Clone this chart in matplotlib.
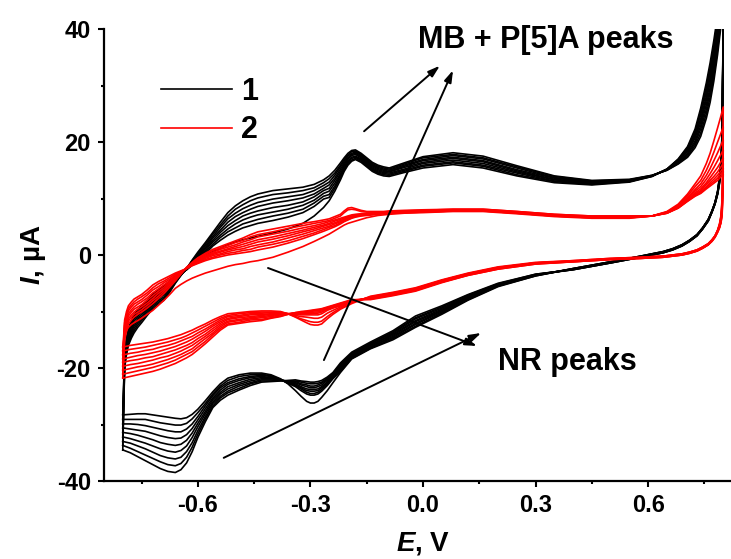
"""CV curves: black (1) and red (2), nine cycles each."""

import numpy as np
import matplotlib
matplotlib.use("Agg")
import matplotlib.pyplot as plt
from matplotlib.lines import Line2D

plt.rcParams["font.family"] = ["Liberation Sans", "DejaVu Sans"]
plt.rcParams["font.weight"] = "bold"
plt.rcParams["mathtext.fontset"] = "custom"
plt.rcParams["mathtext.it"] = "Liberation Sans:italic:bold"
plt.rcParams["mathtext.rm"] = "Liberation Sans:bold"

# potential, V: forward scan (-0.8 -> 0.8) and reverse scan (0.8 -> -0.8)
FWD_E = [-0.800, -0.795, -0.790, -0.785, -0.777, -0.770, -0.760, -0.750, -0.735, -0.720,
         -0.705, -0.690, -0.675, -0.660, -0.645, -0.630, -0.615, -0.600, -0.580, -0.560,
         -0.540, -0.520, -0.500, -0.480, -0.460, -0.440, -0.400, -0.360, -0.320, -0.290,
         -0.265, -0.250, -0.235, -0.220, -0.210, -0.200, -0.190, -0.180, -0.165, -0.150,
         -0.135, -0.120, -0.105, -0.090, -0.050, 0.000, 0.080, 0.160, 0.250, 0.350,
         0.450, 0.550, 0.610, 0.650, 0.680, 0.705, 0.725, 0.740, 0.755, 0.765,
         0.775, 0.785, 0.793, 0.800]
REV_E = [0.799, 0.797, 0.794, 0.790, 0.785, 0.778, 0.770, 0.760, 0.745, 0.730,
         0.710, 0.690, 0.665, 0.640, 0.610, 0.580, 0.500, 0.400, 0.300, 0.200,
         0.120, 0.050, -0.020, -0.080, -0.140, -0.190, -0.220, -0.240, -0.255, -0.270,
         -0.280, -0.290, -0.300, -0.310, -0.325, -0.340, -0.360, -0.380, -0.405, -0.430,
         -0.460, -0.490, -0.520, -0.540, -0.560, -0.580, -0.600, -0.615, -0.630, -0.645,
         -0.660, -0.680, -0.700, -0.720, -0.740, -0.760, -0.780, -0.800]

# current, uA: one row per potential, one column per cycle (9 cycles)
BLACK_FWD = [
    [-28.3, -29.1, -29.9, -30.6, -31.4, -32.2, -33.0, -33.7, -34.5],
    [-17.0, -17.4, -17.8, -18.1, -18.5, -18.9, -19.3, -19.6, -20.0],
    [-14.6, -15.0, -15.4, -15.7, -16.1, -16.5, -16.9, -17.2, -17.6],
    [-13.0, -13.4, -13.8, -14.1, -14.5, -14.9, -15.3, -15.6, -16.0],
    [-11.6, -12.0, -12.4, -12.8, -13.2, -13.5, -13.9, -14.3, -14.7],
    [-10.5, -10.9, -11.3, -11.7, -12.2, -12.6, -13.0, -13.4, -13.8],
    [-9.7, -10.1, -10.5, -10.9, -11.3, -11.6, -12.0, -12.4, -12.8],
    [-9.0, -9.4, -9.8, -10.1, -10.5, -10.9, -11.3, -11.6, -12.0],
    [-8.0, -8.3, -8.7, -9.0, -9.4, -9.7, -10.0, -10.4, -10.7],
    [-7.0, -7.3, -7.6, -7.9, -8.3, -8.6, -8.9, -9.2, -9.5],
    [-6.2, -6.5, -6.8, -7.1, -7.5, -7.8, -8.1, -8.4, -8.7],
    [-5.4, -5.7, -6.1, -6.4, -6.7, -7.0, -7.4, -7.7, -8.0],
    [-4.6, -4.9, -5.1, -5.4, -5.6, -5.9, -6.1, -6.4, -6.6],
    [-3.8, -4.0, -4.1, -4.3, -4.4, -4.6, -4.7, -4.9, -5.0],
    [-3.2, -3.3, -3.3, -3.4, -3.4, -3.5, -3.5, -3.6, -3.6],
    [-2.6, -2.6, -2.6, -2.5, -2.5, -2.5, -2.4, -2.4, -2.4],
    [-1.8, -1.7, -1.6, -1.5, -1.4, -1.2, -1.1, -1.0, -0.9],
    [-1.0, -0.8, -0.6, -0.4, -0.3, -0.1, 0.1, 0.3, 0.5],
    [-0.1, 0.2, 0.5, 0.8, 1.1, 1.3, 1.6, 1.9, 2.2],
    [0.6, 1.6, 1.9, 2.3, 2.6, 3.0, 3.3, 3.7, 4.0],
    [1.2, 2.6, 3.1, 3.5, 4.0, 4.4, 4.9, 5.3, 5.8],
    [1.8, 3.5, 4.1, 4.6, 5.2, 5.8, 6.4, 6.9, 7.5],
    [2.3, 4.2, 4.8, 5.5, 6.1, 6.8, 7.4, 8.1, 8.7],
    [2.7, 4.8, 5.5, 6.2, 6.9, 7.5, 8.2, 8.9, 9.6],
    [3.0, 5.2, 5.9, 6.7, 7.4, 8.1, 8.8, 9.6, 10.3],
    [3.3, 5.6, 6.3, 7.1, 7.8, 8.6, 9.3, 10.1, 10.8],
    [3.9, 6.1, 6.9, 7.6, 8.4, 9.2, 9.9, 10.7, 11.4],
    [4.6, 6.7, 7.4, 8.1, 8.8, 9.6, 10.3, 11.0, 11.7],
    [5.6, 7.5, 8.1, 8.8, 9.4, 10.1, 10.7, 11.4, 12.0],
    [6.9, 8.6, 9.2, 9.7, 10.3, 10.8, 11.4, 11.9, 12.5],
    [8.4, 9.9, 10.4, 10.9, 11.4, 11.8, 12.3, 12.8, 13.3],
    [9.6, 10.2, 10.7, 11.3, 11.8, 12.4, 12.9, 13.5, 14.0],
    [11.3, 11.8, 12.2, 12.7, 13.2, 13.6, 14.1, 14.5, 15.0],
    [13.3, 13.7, 14.1, 14.4, 14.8, 15.2, 15.6, 15.9, 16.3],
    [14.8, 15.1, 15.4, 15.7, 16.0, 16.3, 16.6, 16.9, 17.2],
    [15.9, 16.2, 16.4, 16.7, 17.0, 17.2, 17.5, 17.7, 18.0],
    [16.6, 16.8, 17.1, 17.3, 17.6, 17.8, 18.0, 18.3, 18.5],
    [16.9, 17.1, 17.3, 17.5, 17.8, 18.0, 18.2, 18.4, 18.6],
    [16.4, 16.6, 16.8, 17.0, 17.2, 17.4, 17.6, 17.8, 18.0],
    [15.6, 15.8, 16.0, 16.2, 16.4, 16.6, 16.8, 17.0, 17.2],
    [14.8, 15.0, 15.2, 15.4, 15.6, 15.8, 16.0, 16.2, 16.4],
    [14.3, 14.5, 14.7, 14.9, 15.1, 15.3, 15.5, 15.7, 15.9],
    [14.0, 14.2, 14.4, 14.6, 14.8, 15.0, 15.2, 15.4, 15.6],
    [13.9, 14.1, 14.3, 14.5, 14.7, 14.8, 15.0, 15.2, 15.4],
    [14.6, 14.8, 15.0, 15.2, 15.5, 15.7, 15.9, 16.1, 16.3],
    [15.4, 15.7, 15.9, 16.2, 16.4, 16.7, 16.9, 17.2, 17.4],
    [16.0, 16.3, 16.5, 16.8, 17.1, 17.3, 17.6, 17.8, 18.1],
    [15.4, 15.7, 15.9, 16.2, 16.5, 16.7, 17.0, 17.2, 17.5],
    [14.0, 14.2, 14.5, 14.7, 14.9, 15.1, 15.4, 15.6, 15.8],
    [12.8, 13.0, 13.1, 13.3, 13.4, 13.6, 13.7, 13.9, 14.0],
    [12.4, 12.5, 12.6, 12.7, 12.8, 12.9, 13.0, 13.1, 13.2],
    [12.9, 13.0, 13.0, 13.1, 13.2, 13.2, 13.3, 13.3, 13.4],
    [13.9, 13.9, 14.0, 14.0, 14.0, 14.0, 14.0, 14.1, 14.1],
    [15.2, 15.2, 15.2, 15.1, 15.1, 15.1, 15.1, 15.0, 15.0],
    [17.0, 16.9, 16.8, 16.7, 16.6, 16.4, 16.3, 16.2, 16.1],
    [19.2, 19.0, 18.7, 18.5, 18.3, 18.0, 17.8, 17.5, 17.3],
    [22.3, 21.9, 21.5, 21.1, 20.7, 20.2, 19.8, 19.4, 19.0],
    [26.0, 25.4, 24.8, 24.1, 23.5, 22.9, 22.3, 21.6, 21.0],
    [30.5, 29.7, 28.9, 28.1, 27.4, 26.6, 25.8, 25.0, 24.2],
    [34.0, 33.1, 32.3, 31.4, 30.5, 29.6, 28.8, 27.9, 27.0],
    [38.0, 37.1, 36.2, 35.3, 34.4, 33.5, 32.6, 31.7, 30.8],
    [42.5, 41.6, 40.8, 39.9, 39.0, 38.1, 37.3, 36.4, 35.5],
    [47.0, 46.1, 45.3, 44.4, 43.5, 42.6, 41.8, 40.9, 40.0],
    [50.0, 49.3, 48.5, 47.8, 47.0, 46.3, 45.5, 44.8, 44.0],
]
BLACK_REV = [
    [35.0, 34.6, 34.3, 33.9, 33.5, 33.1, 32.8, 32.4, 32.0],
    [22.0, 21.6, 21.1, 20.7, 20.3, 19.8, 19.4, 18.9, 18.5],
    [16.5, 16.3, 16.1, 15.9, 15.8, 15.6, 15.4, 15.2, 15.0],
    [13.8, 13.7, 13.5, 13.4, 13.2, 13.1, 12.9, 12.8, 12.6],
    [11.3, 11.2, 11.2, 11.1, 11.0, 10.9, 10.9, 10.8, 10.7],
    [9.3, 9.3, 9.2, 9.2, 9.2, 9.1, 9.1, 9.0, 9.0],
    [7.8, 7.8, 7.8, 7.7, 7.7, 7.7, 7.6, 7.6, 7.6],
    [6.3, 6.3, 6.2, 6.2, 6.2, 6.1, 6.1, 6.0, 6.0],
    [4.8, 4.8, 4.8, 4.7, 4.7, 4.7, 4.6, 4.6, 4.6],
    [3.6, 3.6, 3.6, 3.5, 3.5, 3.5, 3.4, 3.4, 3.4],
    [2.6, 2.6, 2.6, 2.5, 2.5, 2.5, 2.4, 2.4, 2.4],
    [1.8, 1.8, 1.8, 1.7, 1.7, 1.7, 1.6, 1.6, 1.6],
    [1.1, 1.1, 1.1, 1.0, 1.0, 1.0, 0.9, 0.9, 0.9],
    [0.6, 0.6, 0.6, 0.5, 0.5, 0.5, 0.4, 0.4, 0.4],
    [0.2, 0.2, 0.2, 0.1, 0.1, 0.1, 0.0, 0.0, 0.0],
    [-0.2, -0.2, -0.2, -0.3, -0.3, -0.3, -0.4, -0.4, -0.4],
    [-1.2, -1.2, -1.2, -1.3, -1.3, -1.3, -1.4, -1.4, -1.4],
    [-2.4, -2.4, -2.4, -2.5, -2.5, -2.5, -2.6, -2.6, -2.6],
    [-3.7, -3.7, -3.6, -3.6, -3.5, -3.5, -3.5, -3.4, -3.4],
    [-5.6, -5.5, -5.4, -5.4, -5.3, -5.2, -5.2, -5.1, -5.0],
    [-8.0, -7.9, -7.7, -7.6, -7.5, -7.4, -7.3, -7.1, -7.0],
    [-10.5, -10.3, -10.1, -9.9, -9.8, -9.6, -9.4, -9.2, -9.0],
    [-12.8, -12.6, -12.3, -12.1, -11.8, -11.6, -11.3, -11.1, -10.8],
    [-15.0, -14.8, -14.6, -14.4, -14.2, -14.0, -13.8, -13.6, -13.4],
    [-16.6, -16.5, -16.3, -16.2, -16.0, -15.9, -15.7, -15.6, -15.4],
    [-18.4, -18.3, -18.1, -18.0, -17.8, -17.7, -17.5, -17.4, -17.2],
    [-20.8, -20.6, -20.4, -20.2, -20.0, -19.7, -19.5, -19.3, -19.1],
    [-22.6, -21.9, -21.7, -21.6, -21.4, -21.3, -21.1, -21.0, -20.8],
    [-24.0, -23.1, -22.9, -22.7, -22.5, -22.2, -22.0, -21.8, -21.6],
    [-25.2, -24.1, -23.8, -23.5, -23.3, -23.0, -22.7, -22.5, -22.2],
    [-25.9, -24.6, -24.3, -24.0, -23.7, -23.3, -23.0, -22.7, -22.4],
    [-26.2, -24.8, -24.5, -24.1, -23.8, -23.5, -23.2, -22.8, -22.5],
    [-26.2, -24.8, -24.5, -24.1, -23.8, -23.5, -23.2, -22.8, -22.5],
    [-25.9, -24.6, -24.3, -24.0, -23.7, -23.3, -23.0, -22.7, -22.4],
    [-25.0, -24.0, -23.7, -23.5, -23.3, -23.0, -22.8, -22.5, -22.3],
    [-24.0, -23.3, -23.1, -23.0, -22.8, -22.6, -22.4, -22.3, -22.1],
    [-22.8, -22.7, -22.6, -22.6, -22.5, -22.4, -22.3, -22.3, -22.2],
    [-21.9, -22.0, -22.0, -22.1, -22.1, -22.1, -22.2, -22.2, -22.3],
    [-21.2, -21.4, -21.5, -21.7, -21.8, -21.9, -22.1, -22.3, -22.4],
    [-20.9, -21.1, -21.3, -21.5, -21.7, -21.9, -22.1, -22.3, -22.5],
    [-20.9, -21.2, -21.5, -21.7, -22.0, -22.3, -22.6, -22.8, -23.1],
    [-21.2, -21.5, -21.9, -22.2, -22.6, -22.9, -23.2, -23.6, -23.9],
    [-21.8, -22.2, -22.6, -22.9, -23.3, -23.7, -24.1, -24.4, -24.8],
    [-22.8, -23.2, -23.5, -23.9, -24.3, -24.6, -25.0, -25.3, -25.7],
    [-24.2, -24.6, -24.9, -25.3, -25.6, -26.0, -26.3, -26.7, -27.0],
    [-25.8, -26.3, -26.7, -27.2, -27.7, -28.1, -28.6, -29.0, -29.5],
    [-27.3, -27.9, -28.6, -29.2, -29.8, -30.4, -31.1, -31.7, -32.3],
    [-28.2, -29.0, -29.9, -30.7, -31.5, -32.3, -33.2, -34.0, -34.8],
    [-28.8, -29.8, -30.8, -31.8, -32.8, -33.8, -34.8, -35.8, -36.8],
    [-29.0, -30.1, -31.3, -32.4, -33.5, -34.6, -35.8, -36.9, -38.0],
    [-28.9, -30.1, -31.3, -32.5, -33.7, -34.9, -36.1, -37.3, -38.5],
    [-28.7, -29.9, -31.1, -32.3, -33.5, -34.7, -35.9, -37.1, -38.3],
    [-28.5, -29.7, -30.8, -32.0, -33.2, -34.3, -35.5, -36.6, -37.8],
    [-28.3, -29.4, -30.5, -31.6, -32.7, -33.8, -34.9, -36.0, -37.1],
    [-28.1, -29.1, -30.2, -31.2, -32.3, -33.3, -34.3, -35.4, -36.4],
    [-28.1, -29.1, -30.0, -31.0, -31.9, -32.9, -33.8, -34.8, -35.7],
    [-28.2, -29.1, -29.9, -30.8, -31.6, -32.5, -33.3, -34.2, -35.0],
    [-28.3, -29.1, -29.9, -30.6, -31.4, -32.2, -33.0, -33.7, -34.5],
]
RED_FWD = [
    [-16.3, -17.0, -17.7, -18.4, -19.0, -19.7, -20.4, -21.1, -21.8],
    [-14.0, -11.5, -12.0, -12.5, -13.0, -13.5, -14.0, -14.5, -15.0],
    [-13.4, -10.0, -10.5, -11.0, -11.5, -12.0, -12.5, -13.0, -13.5],
    [-12.8, -9.0, -9.5, -9.9, -10.4, -10.8, -11.3, -11.7, -12.2],
    [-12.3, -8.3, -8.8, -9.2, -9.7, -10.1, -10.6, -11.0, -11.5],
    [-12.0, -7.8, -8.3, -8.7, -9.2, -9.6, -10.1, -10.5, -11.0],
    [-11.6, -7.4, -7.8, -8.3, -8.7, -9.2, -9.6, -10.1, -10.5],
    [-11.2, -7.0, -7.4, -7.9, -8.3, -8.8, -9.2, -9.7, -10.1],
    [-10.5, -6.2, -6.7, -7.1, -7.6, -8.0, -8.5, -8.9, -9.4],
    [-9.8, -5.3, -5.8, -6.2, -6.7, -7.2, -7.7, -8.1, -8.6],
    [-8.9, -4.7, -5.1, -5.6, -6.0, -6.4, -6.8, -7.3, -7.7],
    [-8.0, -4.2, -4.6, -4.9, -5.3, -5.7, -6.1, -6.4, -6.8],
    [-7.0, -3.7, -4.0, -4.3, -4.6, -4.8, -5.1, -5.4, -5.7],
    [-5.9, -3.2, -3.4, -3.6, -3.8, -4.0, -4.2, -4.4, -4.6],
    [-5.2, -2.8, -2.9, -3.0, -3.1, -3.1, -3.2, -3.3, -3.4],
    [-4.6, -2.4, -2.4, -2.4, -2.3, -2.3, -2.3, -2.2, -2.2],
    [-4.1, -1.9, -1.8, -1.7, -1.6, -1.6, -1.5, -1.4, -1.3],
    [-3.7, -1.5, -1.4, -1.2, -1.1, -0.9, -0.8, -0.6, -0.5],
    [-3.2, -1.0, -0.8, -0.6, -0.4, -0.3, -0.1, 0.1, 0.3],
    [-2.8, -0.6, -0.4, -0.1, 0.1, 0.3, 0.5, 0.8, 1.0],
    [-2.4, -0.3, 0.0, 0.2, 0.5, 0.7, 1.0, 1.2, 1.5],
    [-2.0, 0.0, 0.3, 0.6, 0.9, 1.1, 1.4, 1.7, 2.0],
    [-1.7, 0.2, 0.5, 0.9, 1.2, 1.5, 1.8, 2.2, 2.5],
    [-1.5, 0.4, 0.8, 1.1, 1.5, 1.9, 2.3, 2.6, 3.0],
    [-1.2, 0.6, 1.0, 1.5, 1.9, 2.3, 2.7, 3.2, 3.6],
    [-1.0, 0.9, 1.4, 1.8, 2.3, 2.7, 3.2, 3.6, 4.1],
    [-0.4, 1.4, 1.9, 2.3, 2.8, 3.2, 3.7, 4.1, 4.6],
    [0.5, 2.1, 2.5, 3.0, 3.4, 3.8, 4.2, 4.7, 5.1],
    [1.5, 2.9, 3.3, 3.7, 4.1, 4.4, 4.8, 5.2, 5.6],
    [2.4, 3.6, 3.9, 4.3, 4.6, 4.9, 5.2, 5.6, 5.9],
    [3.2, 4.2, 4.5, 4.8, 5.1, 5.3, 5.6, 5.9, 6.2],
    [3.7, 4.6, 4.9, 5.1, 5.4, 5.6, 5.9, 6.1, 6.4],
    [4.3, 5.0, 5.2, 5.5, 5.7, 6.0, 6.2, 6.5, 6.8],
    [4.9, 5.5, 5.7, 5.9, 6.1, 6.3, 6.5, 6.9, 7.2],
    [5.3, 5.9, 6.0, 6.2, 6.3, 6.5, 6.7, 7.5, 7.8],
    [5.6, 6.2, 6.3, 6.5, 6.6, 6.8, 6.9, 8.0, 8.3],
    [5.8, 6.5, 6.6, 6.7, 6.8, 6.9, 7.1, 8.1, 8.4],
    [6.0, 6.7, 6.8, 6.9, 7.0, 7.1, 7.2, 8.0, 8.2],
    [6.3, 6.9, 7.0, 7.0, 7.1, 7.2, 7.3, 7.7, 7.9],
    [6.6, 7.0, 7.1, 7.1, 7.2, 7.3, 7.4, 7.6, 7.7],
    [6.8, 7.1, 7.2, 7.2, 7.3, 7.4, 7.4, 7.6, 7.7],
    [7.0, 7.2, 7.3, 7.3, 7.4, 7.5, 7.5, 7.6, 7.7],
    [7.1, 7.3, 7.4, 7.4, 7.5, 7.5, 7.6, 7.6, 7.7],
    [7.2, 7.4, 7.4, 7.5, 7.5, 7.6, 7.6, 7.7, 7.8],
    [7.4, 7.5, 7.5, 7.6, 7.6, 7.7, 7.7, 7.8, 7.9],
    [7.5, 7.6, 7.6, 7.7, 7.7, 7.8, 7.8, 7.9, 8.0],
    [7.7, 7.8, 7.8, 7.9, 7.9, 8.0, 8.0, 8.1, 8.1],
    [7.7, 7.8, 7.8, 7.9, 7.9, 8.0, 8.0, 8.1, 8.1],
    [7.3, 7.4, 7.4, 7.5, 7.5, 7.6, 7.6, 7.7, 7.7],
    [6.8, 6.9, 6.9, 7.0, 7.0, 7.1, 7.1, 7.2, 7.2],
    [6.5, 6.6, 6.6, 6.7, 6.7, 6.8, 6.8, 6.9, 6.9],
    [6.5, 6.6, 6.6, 6.7, 6.7, 6.8, 6.8, 6.9, 6.9],
    [6.9, 6.9, 6.9, 6.9, 6.9, 6.9, 6.9, 6.9, 6.9],
    [7.7, 7.6, 7.6, 7.5, 7.5, 7.5, 7.4, 7.4, 7.4],
    [9.0, 8.8, 8.7, 8.6, 8.5, 8.4, 8.4, 8.3, 8.3],
    [10.8, 10.5, 10.2, 10.0, 9.8, 9.7, 9.6, 9.6, 9.5],
    [12.6, 12.1, 11.6, 11.3, 11.0, 10.8, 10.6, 10.5, 10.4],
    [14.0, 13.2, 12.6, 12.1, 11.7, 11.4, 11.2, 11.0, 10.9],
    [16.2, 15.0, 14.1, 13.4, 12.8, 12.5, 12.1, 11.9, 11.7],
    [18.0, 16.5, 15.3, 14.4, 13.7, 13.2, 12.8, 12.5, 12.2],
    [20.2, 18.2, 16.7, 15.5, 14.6, 13.9, 13.4, 13.0, 12.7],
    [22.5, 20.0, 18.1, 16.7, 15.5, 14.7, 14.1, 13.6, 13.2],
    [24.4, 21.4, 19.3, 17.7, 16.4, 15.5, 14.8, 14.3, 13.8],
    [26.2, 22.7, 20.4, 18.6, 17.2, 16.2, 15.4, 14.8, 14.3],
]
RED_REV = [
    [18.0, 16.0, 14.8, 13.8, 13.0, 12.4, 11.9, 11.5, 11.0],
    [10.0, 9.5, 9.0, 8.6, 8.2, 7.9, 7.6, 7.3, 7.0],
    [7.0, 6.8, 6.6, 6.4, 6.2, 6.0, 5.9, 5.8, 5.7],
    [5.5, 5.4, 5.3, 5.2, 5.1, 5.0, 4.9, 4.8, 4.8],
    [4.4, 4.4, 4.3, 4.3, 4.2, 4.2, 4.1, 4.1, 4.0],
    [3.4, 3.4, 3.3, 3.3, 3.3, 3.2, 3.2, 3.2, 3.1],
    [2.7, 2.7, 2.6, 2.6, 2.6, 2.5, 2.5, 2.5, 2.4],
    [2.0, 2.0, 2.0, 1.9, 1.9, 1.9, 1.8, 1.8, 1.8],
    [1.4, 1.4, 1.4, 1.3, 1.3, 1.3, 1.2, 1.2, 1.2],
    [0.9, 0.9, 0.9, 0.8, 0.8, 0.8, 0.7, 0.7, 0.7],
    [0.5, 0.5, 0.5, 0.4, 0.4, 0.4, 0.3, 0.3, 0.3],
    [0.2, 0.2, 0.2, 0.1, 0.1, 0.1, 0.0, 0.0, 0.0],
    [0.0, 0.0, 0.0, -0.1, -0.1, -0.1, -0.2, -0.2, -0.2],
    [-0.2, -0.2, -0.2, -0.3, -0.3, -0.3, -0.4, -0.4, -0.4],
    [-0.3, -0.3, -0.3, -0.4, -0.4, -0.4, -0.5, -0.5, -0.5],
    [-0.4, -0.4, -0.5, -0.5, -0.5, -0.5, -0.6, -0.6, -0.6],
    [-0.6, -0.6, -0.7, -0.7, -0.7, -0.7, -0.8, -0.8, -0.8],
    [-1.0, -1.0, -1.1, -1.1, -1.1, -1.1, -1.2, -1.2, -1.2],
    [-1.3, -1.4, -1.4, -1.4, -1.5, -1.5, -1.5, -1.6, -1.6],
    [-2.1, -2.2, -2.2, -2.3, -2.3, -2.4, -2.4, -2.5, -2.5],
    [-3.2, -3.3, -3.3, -3.4, -3.4, -3.5, -3.5, -3.6, -3.6],
    [-4.4, -4.5, -4.5, -4.6, -4.6, -4.7, -4.8, -4.8, -4.9],
    [-5.8, -5.9, -6.0, -6.0, -6.1, -6.2, -6.2, -6.3, -6.4],
    [-6.6, -6.7, -6.8, -6.8, -6.9, -7.0, -7.0, -7.1, -7.2],
    [-7.3, -7.4, -7.5, -7.5, -7.6, -7.7, -7.7, -7.8, -7.9],
    [-8.6, -8.4, -8.3, -8.2, -8.2, -8.1, -8.0, -8.0, -7.9],
    [-9.6, -9.4, -9.2, -9.0, -8.9, -8.8, -8.7, -8.6, -8.5],
    [-10.5, -10.2, -9.8, -9.4, -9.3, -9.2, -9.1, -9.0, -8.9],
    [-11.3, -10.9, -10.3, -9.8, -9.6, -9.5, -9.4, -9.3, -9.2],
    [-12.2, -11.7, -11.0, -10.4, -10.1, -9.9, -9.7, -9.6, -9.5],
    [-12.4, -11.9, -11.2, -10.6, -10.3, -10.1, -9.9, -9.8, -9.6],
    [-12.4, -11.9, -11.2, -10.6, -10.3, -10.1, -9.9, -9.8, -9.7],
    [-12.3, -11.8, -11.1, -10.6, -10.4, -10.2, -10.0, -9.9, -9.8],
    [-12.0, -11.6, -11.0, -10.6, -10.4, -10.2, -10.1, -10.0, -9.9],
    [-11.5, -11.3, -10.9, -10.6, -10.4, -10.3, -10.2, -10.1, -10.0],
    [-11.0, -10.9, -10.7, -10.5, -10.4, -10.3, -10.3, -10.2, -10.2],
    [-10.4, -10.4, -10.4, -10.4, -10.4, -10.4, -10.4, -10.5, -10.5],
    [-10.0, -10.1, -10.2, -10.3, -10.4, -10.5, -10.6, -10.8, -10.9],
    [-9.9, -10.1, -10.2, -10.4, -10.5, -10.7, -10.9, -11.1, -11.2],
    [-9.9, -10.1, -10.3, -10.5, -10.7, -10.9, -11.1, -11.4, -11.6],
    [-10.0, -10.2, -10.4, -10.6, -10.9, -11.1, -11.3, -11.5, -11.8],
    [-10.2, -10.4, -10.7, -10.9, -11.1, -11.4, -11.6, -11.9, -12.1],
    [-10.4, -10.7, -10.9, -11.2, -11.4, -11.7, -11.9, -12.2, -12.4],
    [-10.9, -11.2, -11.5, -11.8, -12.1, -12.4, -12.7, -13.0, -13.3],
    [-11.5, -11.9, -12.3, -12.6, -13.0, -13.4, -13.8, -14.1, -14.5],
    [-12.2, -12.6, -13.1, -13.5, -14.0, -14.4, -14.8, -15.3, -15.7],
    [-12.8, -13.3, -13.8, -14.3, -14.8, -15.3, -15.8, -16.3, -16.8],
    [-13.3, -13.8, -14.4, -14.9, -15.5, -16.0, -16.6, -17.1, -17.6],
    [-13.7, -14.3, -14.8, -15.4, -16.0, -16.5, -17.1, -17.6, -18.2],
    [-14.1, -14.7, -15.2, -15.8, -16.4, -17.0, -17.6, -18.1, -18.7],
    [-14.4, -15.0, -15.6, -16.2, -16.8, -17.4, -18.0, -18.6, -19.2],
    [-14.8, -15.4, -16.0, -16.6, -17.2, -17.9, -18.5, -19.1, -19.7],
    [-15.1, -15.7, -16.3, -17.0, -17.6, -18.2, -18.9, -19.5, -20.2],
    [-15.4, -16.0, -16.7, -17.3, -18.0, -18.6, -19.3, -19.9, -20.6],
    [-15.6, -16.3, -16.9, -17.6, -18.2, -18.9, -19.6, -20.2, -20.9],
    [-15.8, -16.5, -17.2, -17.8, -18.5, -19.2, -19.8, -20.5, -21.2],
    [-16.0, -16.7, -17.4, -18.1, -18.7, -19.4, -20.1, -20.8, -21.5],
    [-16.3, -17.0, -17.7, -18.4, -19.0, -19.7, -20.4, -21.1, -21.8],
]

SERIES = ["1", "2"]
COLORS = ["black", "red"]


def draw_cycles(ax, fwd, rev, color):
    e = np.concatenate([FWD_E, REV_E])
    cur = np.vstack([np.array(fwd), np.array(rev)])
    for k in range(cur.shape[1]):
        ax.plot(e, cur[:, k], color=color, lw=1.2, solid_joinstyle="round")


fig = plt.figure(figsize=(7.31, 5.59), dpi=100)
ax = fig.add_axes([104 / 731, 78 / 559, 638 / 731, 452 / 559])

draw_cycles(ax, BLACK_FWD, BLACK_REV, COLORS[0])
draw_cycles(ax, RED_FWD, RED_REV, COLORS[1])

ax.set_xlim(-0.85, 0.85)
ax.set_ylim(-40, 40)
ax.set_xticks([-0.6, -0.3, 0.0, 0.3, 0.6])
ax.set_xticks([-0.75, -0.45, -0.15, 0.15, 0.45, 0.75], minor=True)
ax.set_yticks([-40, -20, 0, 20, 40])
ax.set_yticks([-30, -10, 10, 30], minor=True)
ax.set_xticklabels(["-0.6", "-0.3", "0.0", "0.3", "0.6"])
ax.set_yticklabels(["-40", "-20", "0", "20", "40"])
ax.tick_params(which="major", direction="out", length=4.5, width=1.5, labelsize=17, pad=5)
ax.tick_params(which="minor", direction="out", length=2.5, width=1.5)
for side in ["top", "right"]:
    ax.spines[side].set_visible(False)
for side in ["left", "bottom"]:
    ax.spines[side].set_linewidth(1.6)

ax.set_xlabel(r"$E$, V", fontsize=20, fontweight="bold", labelpad=9)
ax.set_ylabel(r"$I$, µA", fontsize=20, fontweight="bold", labelpad=6)

handles = [Line2D([], [], color=c, lw=1.2) for c in COLORS]
ax.legend(handles, SERIES, loc="upper left", bbox_to_anchor=(0.047, 0.955), frameon=False,
          handlelength=2.3, handletextpad=0.3, labelspacing=0.28,
          prop={"weight": "bold", "size": 22})

arrow = dict(arrowstyle="-|>,head_length=0.7,head_width=0.22", color="black", lw=1.4,
             shrinkA=0, shrinkB=0)
ax.annotate("", xy=(0.045, 33.5), xytext=(-0.157, 21.9), arrowprops=arrow)
ax.annotate("", xy=(0.080, 32.7), xytext=(-0.264, -18.6), arrowprops=arrow)
ax.annotate("", xy=(0.144, -16.1), xytext=(-0.413, -2.3), arrowprops=arrow)
ax.annotate("", xy=(0.155, -13.8), xytext=(-0.531, -35.9), arrowprops=arrow)

ax.text(-0.012, 38.1, "MB + P[5]A peaks", fontsize=22, fontweight="bold", ha="left", va="center")
ax.text(0.2, -18.9, "NR peaks", fontsize=22, fontweight="bold", ha="left", va="center")

fig.savefig("out.png", dpi=100)
